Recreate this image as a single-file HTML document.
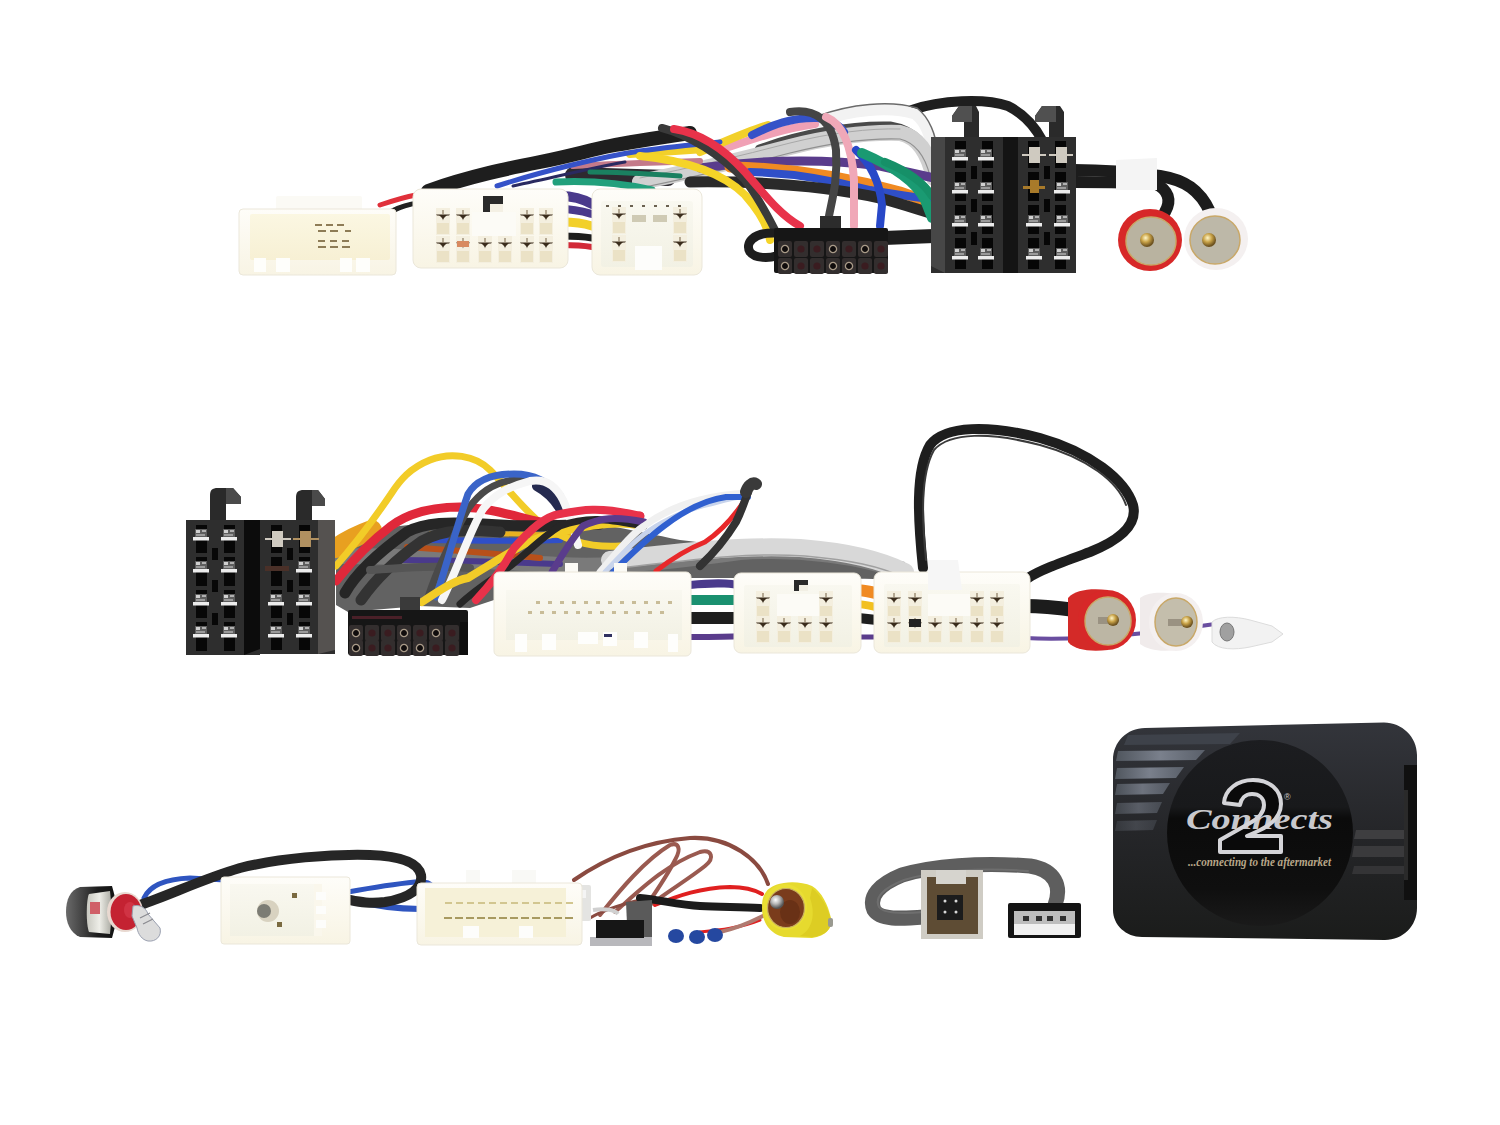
<!DOCTYPE html>
<html><head><meta charset="utf-8"><style>
html,body{margin:0;padding:0;background:#fff;width:1500px;height:1125px;overflow:hidden;font-family:"Liberation Sans",sans-serif;}
svg{display:block;position:absolute;left:0;top:0}
</style></head><body>
<svg width="1500" height="1125" viewBox="0 0 1500 1125">
<defs>
<linearGradient id="wc" x1="0" y1="0" x2="0" y2="1"><stop offset="0" stop-color="#fefdf9"/><stop offset="1" stop-color="#f8f4e4"/></linearGradient>
<linearGradient id="wcin" x1="0" y1="0" x2="0" y2="1"><stop offset="0" stop-color="#fbf7e2"/><stop offset="1" stop-color="#f7f0d4"/></linearGradient>
<clipPath id="boxclip"><path d="M1113,760 C1113,742 1127,728 1145,728 L1384,722.5 C1402,722.5 1417,737 1417,755 L1417,908 C1417,926 1403,940 1385,940 L1142,937 C1126,937 1113,925 1113,910 Z"/></clipPath>
<radialGradient id="gold" cx=".4" cy=".35" r=".6"><stop offset="0" stop-color="#fff6c8"/><stop offset=".5" stop-color="#c9a348"/><stop offset="1" stop-color="#6d5220"/></radialGradient>
<radialGradient id="silv" cx=".4" cy=".35" r=".6"><stop offset="0" stop-color="#ffffff"/><stop offset=".5" stop-color="#b8b8b8"/><stop offset="1" stop-color="#555"/></radialGradient>
<linearGradient id="box" x1="0" y1="0" x2="0" y2="1"><stop offset="0" stop-color="#33353b"/><stop offset=".5" stop-color="#252629"/><stop offset="1" stop-color="#1b1c1b"/></linearGradient>
<linearGradient id="circ" x1="0" y1="0" x2="0" y2="1"><stop offset="0" stop-color="#1c1d20"/><stop offset=".36" stop-color="#18191b"/><stop offset=".42" stop-color="#0b0b0b"/><stop offset=".8" stop-color="#0f0f0f"/><stop offset="1" stop-color="#1a1a1a"/></linearGradient>
<g id="pinA">
<rect x="-7" y="-12" width="14" height="27" fill="#f4efdf"/>
<rect x="-6" y="3" width="12" height="11" fill="#ebe2c6"/>
<path d="M-7,-5.5 L7,-5.5 L6,-4.5 L1.2,-4.2 L0,0.5 L-1.2,-4.2 L-6,-4.5 Z" fill="#3a2c1c"/>
<path d="M-4,-5 L4,-5 L0,-1 Z" fill="#3a2c1c"/>
<rect x="-0.6" y="-10" width="1.2" height="4.5" fill="#8a7a60"/>
</g>
<g id="hole14"><rect x="-7" y="-8" width="14" height="16" rx="2" fill="#332e2e"/><circle r="3.6" fill="#100c0c" stroke="#a89a88" stroke-width="1.3"/></g>
<g id="hole14b"><rect x="-7" y="-8" width="14" height="16" rx="2" fill="#332e2e"/><circle r="3.6" fill="#3a1c20"/></g>
<g id="isoCont">
<rect x="-6" y="-9" width="12" height="9" fill="#5e5e5e"/>
<rect x="-5" y="-8" width="4" height="3" fill="#d0d0d0"/><rect x="1" y="-8" width="4" height="2" fill="#b0b0b0"/><rect x="-5" y="-4" width="9" height="2" fill="#9a9a9a"/>
<rect x="-8" y="-1" width="16" height="3.5" fill="#ececec"/>
</g>
<g id="isoBody">
<rect x="0" y="0" width="72" height="136" fill="#2e2e2e"/>
<g fill="#060606">
<rect x="24" y="4" width="11" height="128"/><rect x="51" y="4" width="11" height="128"/>
<rect x="40" y="29" width="6" height="13"/><rect x="40" y="62" width="6" height="13"/><rect x="40" y="95" width="6" height="13"/>
</g>
<g fill="#2e2e2e"><rect x="24" y="31" width="11" height="4"/><rect x="51" y="31" width="11" height="4"/><rect x="24" y="64" width="11" height="4"/><rect x="51" y="64" width="11" height="4"/><rect x="24" y="97" width="11" height="4"/><rect x="51" y="97" width="11" height="4"/></g>
</g>>
<linearGradient id="wcin2" x1="0" y1="0" x2="0" y2="1"><stop offset="0" stop-color="#f9f8f0"/><stop offset="1" stop-color="#f2f1e4"/></linearGradient>
</defs>
<rect width="1500" height="1125" fill="#fff"/>
<g fill="none" stroke-linecap="round">
<!-- black cable loop over ISO -->
<path d="M912,110 C940,100 985,98 1008,106 C1024,114 1034,125 1042,140" stroke="#1f1f1f" stroke-width="10"/>
<!-- back layer right -->
<path d="M818,122 C850,110 890,106 915,114 C928,124 932,142 934,162" stroke="#f2f2f2" stroke-width="11"/>
<path d="M818,116 C850,104 890,100 917,108 C930,118 936,136 937,150" stroke="#6a6a6a" stroke-width="1.5"/>
<path d="M760,150 C800,135 850,126 890,127 C915,131 926,146 934,172" stroke="#4a4a4a" stroke-width="11"/>
<path d="M573,175 C610,176 640,177 668,178" stroke="#2e2a30" stroke-width="16"/>
<path d="M640,182 C690,172 740,160 790,147 C830,137 870,132 900,133 C918,137 928,152 934,178" stroke="#d0d0d0" stroke-width="16"/>
<path d="M640,188 C690,178 740,166 790,153 C830,143 870,138 900,139 C916,143 925,156 930,176" stroke="#909090" stroke-width="1.2"/>
<path d="M640,178 C690,168 740,156 790,143 C830,133 870,128 900,129" stroke="#a8a8a8" stroke-width="1"/>
<path d="M700,168 C760,160 820,158 880,166 L934,178" stroke="#5a3c8c" stroke-width="9"/>
<path d="M730,167 C790,168 850,178 900,192 L934,204" stroke="#f08a22" stroke-width="11"/>
<path d="M750,172 C800,173 840,182 870,190 C890,194 910,196 934,200" stroke="#2f4fc8" stroke-width="8"/>
<path d="M690,182 C760,181 820,185 880,198 C905,205 920,210 934,214" stroke="#2a2a2a" stroke-width="11"/>
<path d="M720,150 C750,140 780,129 815,124" stroke="#f0a0b5" stroke-width="8"/>
<path d="M700,152 C722,143 745,132 768,125" stroke="#f2d02a" stroke-width="8"/>
<path d="M752,135 C772,125 792,117 818,118 C832,120 840,126 844,132" stroke="#3552c8" stroke-width="8"/>
<!-- left part -->
<path d="M573,166 C610,164 640,163 700,161" stroke="#c47a8a" stroke-width="6"/>
<path d="M630,154 C660,152 690,150 720,148" stroke="#f2d02a" stroke-width="8"/>
<path d="M497,186 C540,172 600,157 640,151 C670,147 690,145 720,142" stroke="#3552c8" stroke-width="5"/>
<path d="M513,186 C560,176 600,166 625,162" stroke="#2a2a60" stroke-width="3"/>
<path d="M556,182 C600,180 630,185 652,190" stroke="#22a07c" stroke-width="7"/>
<path d="M590,172 C620,172 650,174 680,176" stroke="#1a8060" stroke-width="5"/>
<path d="M428,191 C470,176 510,168 540,162 C570,156 590,150 610,146 C630,142 650,139 690,133" stroke="#1e1e1e" stroke-width="14"/>
<!-- between W2/W3 -->
<path d="M560,196 C575,196 585,200 592,204" stroke="#4a3a8c" stroke-width="10"/>
<path d="M560,209 C575,209 585,212 592,214" stroke="#4a3a8c" stroke-width="8"/>
<path d="M562,222 C578,222 586,224 592,226" stroke="#f2d02a" stroke-width="9"/>
<path d="M562,236 C578,236 586,237 592,238" stroke="#1e1e1e" stroke-width="7"/>
<path d="M562,245 C578,245 586,246 592,247" stroke="#d22a38" stroke-width="6"/>
<path d="M380,205 C395,200 405,197 416,195" stroke="#e0303a" stroke-width="5"/>
<path d="M392,211 C402,206 410,204 418,203" stroke="#222" stroke-width="5"/>
<!-- front wires to 14 pin -->
<path d="M640,156 C680,160 720,170 745,195 C760,212 768,226 770,240" stroke="#f5d428" stroke-width="8"/>
<path d="M662,128 C690,135 720,155 745,180 C760,200 770,220 776,232" stroke="#3a3a3a" stroke-width="8"/>
<path d="M674,129 C700,133 725,150 745,172 C765,195 780,215 800,226" stroke="#e8324a" stroke-width="8"/>
<path d="M790,112 C815,108 832,120 836,150 C838,180 832,200 829,216" stroke="#454545" stroke-width="8"/>
<path d="M826,117 C845,125 852,150 854,180 L854,226" stroke="#f0a8b8" stroke-width="8"/>
<path d="M856,150 C872,165 880,185 882,205 L880,226" stroke="#2848c8" stroke-width="8"/>
<path d="M862,153 C890,165 915,180 925,200 L932,218" stroke="#1a9a72" stroke-width="10"/>
<path d="M885,162 C910,172 925,185 932,196" stroke="#169068" stroke-width="8"/>
<!-- black behind 14 pin -->
<path d="M776,233 C752,232 745,244 750,252 C755,259 770,258 776,256" stroke="#1e1e1e" stroke-width="9"/>
<path d="M884,238 L934,236" stroke="#1e1e1e" stroke-width="14"/>
<!-- cable to RCA -->
<path d="M1074,170 C1100,170 1130,172 1160,176 C1185,180 1200,190 1210,212" stroke="#1c1c1c" stroke-width="12"/>
<path d="M1074,182 C1100,182 1130,182 1156,184 C1168,190 1172,200 1165,212" stroke="#1c1c1c" stroke-width="12"/>
<path d="M1116,160 L1157,158 L1157,190 L1116,190 Z" fill="#f4f4f4" stroke="none"/>
</g>
<!-- W1 -->
<rect x="276" y="196" width="86" height="16" rx="2" fill="#fbfaf5"/>
<rect x="239" y="209" width="157" height="66" rx="4" fill="url(#wc)" stroke="#ebe7da" stroke-width="1"/>
<rect x="250" y="214" width="140" height="46" rx="2" fill="url(#wcin)"/>
<g fill="#8e7c56">
<rect x="315" y="224" width="7" height="2"/><rect x="326" y="224" width="7" height="2"/><rect x="337" y="224" width="7" height="2"/>
<rect x="318" y="230" width="8" height="2"/><rect x="330" y="230" width="8" height="2"/><rect x="345" y="230" width="6" height="2"/>
<rect x="318" y="240" width="7" height="2"/><rect x="330" y="240" width="7" height="2"/><rect x="342" y="240" width="7" height="2"/>
<rect x="318" y="246" width="8" height="2"/><rect x="330" y="246" width="8" height="2"/><rect x="342" y="246" width="8" height="2"/>
</g>
<g fill="#fefefb"><rect x="254" y="258" width="12" height="14"/><rect x="276" y="258" width="14" height="14"/><rect x="340" y="258" width="12" height="14"/><rect x="356" y="258" width="14" height="14"/></g>
<!-- W2 -->
<rect x="413" y="189" width="155" height="79" rx="8" fill="url(#wc)" stroke="#ebe7da" stroke-width="1"/>
<rect x="483" y="196" width="20" height="17" fill="#2a2a2a"/><rect x="490" y="204" width="13" height="9" fill="#f4f0e4"/>
<rect x="472" y="212" width="44" height="24" fill="#fcfbf6"/>
<use href="#pinA" x="443" y="220"/><use href="#pinA" x="463" y="220"/><use href="#pinA" x="527" y="220"/><use href="#pinA" x="546" y="220"/>
<use href="#pinA" x="443" y="248"/><use href="#pinA" x="463" y="248"/><use href="#pinA" x="485" y="248"/><use href="#pinA" x="505" y="248"/><use href="#pinA" x="527" y="248"/><use href="#pinA" x="546" y="248"/>
<rect x="457" y="241" width="12" height="6" fill="#d88a60"/>
<!-- W3 -->
<rect x="592" y="189" width="110" height="86" rx="8" fill="url(#wc)" stroke="#ebe7da" stroke-width="1"/>
<rect x="601" y="201" width="92" height="66" rx="3" fill="url(#wcin2)"/>
<g fill="#6a6050"><rect x="606" y="205" width="3" height="2"/><rect x="618" y="205" width="3" height="2"/><rect x="630" y="205" width="3" height="2"/><rect x="642" y="205" width="3" height="2"/><rect x="654" y="205" width="3" height="2"/><rect x="666" y="205" width="3" height="2"/><rect x="678" y="205" width="3" height="2"/></g>
<use href="#pinA" x="619" y="219"/><use href="#pinA" x="680" y="219"/>
<use href="#pinA" x="619" y="247"/><use href="#pinA" x="680" y="247"/>
<g fill="#cfcab4"><rect x="632" y="215" width="14" height="7"/><rect x="653" y="215" width="14" height="7"/></g>
<path d="M635,246 L662,246 L662,270 L635,270 Z" fill="#fdfdfb"/>
<!-- 14 pin black -->
<rect x="820" y="216" width="21" height="15" fill="#2c2c2c"/>
<rect x="774" y="228" width="114" height="45" rx="2" fill="#161616"/>
<use href="#hole14" x="785" y="249"/><use href="#hole14b" x="801" y="249"/><use href="#hole14b" x="817" y="249"/><use href="#hole14" x="833" y="249"/><use href="#hole14b" x="849" y="249"/><use href="#hole14" x="865" y="249"/><use href="#hole14b" x="881" y="249"/>
<use href="#hole14" x="785" y="266"/><use href="#hole14b" x="801" y="266"/><use href="#hole14b" x="817" y="266"/><use href="#hole14" x="833" y="266"/><use href="#hole14" x="849" y="266"/><use href="#hole14b" x="865" y="266"/><use href="#hole14b" x="881" y="266"/>
<!-- ISO 1 -->
<path d="M964,138 L964,122 L952,122 L952,116 L959,106 L976,106 L979,112 L979,138 Z" fill="#2a2a2a"/>
<path d="M952,122 L952,116 L959,106 L972,106 L972,122 Z" fill="#505050"/>
<use href="#isoBody" x="931" y="137"/>
<path d="M931,137 L945,137 L945,273 L931,266 Z" fill="#474747"/>
<use href="#isoCont" x="960" y="158"/><use href="#isoCont" x="986" y="158"/>
<use href="#isoCont" x="960" y="191"/><use href="#isoCont" x="986" y="191"/>
<use href="#isoCont" x="960" y="224"/><use href="#isoCont" x="986" y="224"/>
<use href="#isoCont" x="960" y="257"/><use href="#isoCont" x="986" y="257"/>
<!-- ISO 2 -->
<path d="M1049,138 L1049,122 L1035,122 L1035,116 L1042,106 L1060,106 L1064,112 L1064,138 Z" fill="#2a2a2a"/>
<path d="M1035,122 L1035,116 L1042,106 L1056,106 L1056,122 Z" fill="#505050"/>
<use href="#isoBody" x="1004" y="137"/>
<rect x="1003" y="137" width="15" height="136" fill="#141414"/>
<use href="#isoCont" x="1062" y="191"/>
<use href="#isoCont" x="1034" y="224"/><use href="#isoCont" x="1062" y="224"/>
<use href="#isoCont" x="1034" y="257"/><use href="#isoCont" x="1062" y="257"/>
<g fill="#cfcac0"><rect x="1029" y="147" width="11" height="16"/><rect x="1056" y="147" width="11" height="16"/><rect x="1022" y="154" width="24" height="2"/><rect x="1049" y="154" width="24" height="2"/></g>
<g fill="#a87a2a"><rect x="1030" y="180" width="9" height="13"/><rect x="1023" y="186" width="22" height="3"/></g>
<!-- RCA row1 -->
<ellipse cx="1150" cy="240" rx="32" ry="31" fill="#d72828"/>
<ellipse cx="1151" cy="241" rx="25" ry="24" fill="#b9b3a0" stroke="#c9a868" stroke-width="1.5"/>
<circle cx="1147" cy="240" r="7" fill="url(#gold)"/>
<ellipse cx="1216" cy="239" rx="32" ry="31" fill="#f4f0f0"/>
<ellipse cx="1215" cy="240" rx="25" ry="24" fill="#bdb8a8" stroke="#c9a868" stroke-width="1.5"/>
<circle cx="1209" cy="240" r="7" fill="url(#gold)"/>
<g fill="none" stroke-linecap="round">
<!-- black loop cable -->
<path d="M923,568 C918,520 915,470 930,445 C945,425 990,425 1040,438 C1090,452 1125,480 1133,505 C1138,525 1120,540 1090,552 C1060,563 1040,570 1028,578" stroke="#1e1e1e" stroke-width="10"/>
<path d="M926,560 C922,520 920,475 934,450 C950,432 990,432 1040,445 C1088,458 1118,482 1126,505" stroke="#3a3a3a" stroke-width="2"/>
<!-- back bundle -->
<path d="M336,540 C360,532 390,526 420,524 C460,522 520,524 560,522 C600,522 630,530 680,540 C740,548 850,552 905,562 L905,580 C850,578 760,578 700,578 L494,578 L494,600 L470,608 L420,606 L348,612 L336,605 Z" fill="#626262" stroke="none"/>
<path d="M336,556 C400,556 470,560 560,565 C620,568 680,560 740,552 C800,548 860,556 905,572" stroke="#7a7a7a" stroke-width="16"/>
<path d="M610,560 C680,552 740,545 800,548 C850,552 880,560 905,572" stroke="#d8d8d8" stroke-width="18"/>
<path d="M620,568 C690,560 745,552 805,556 C850,560 880,566 905,578" stroke="#a0a0a0" stroke-width="1.5"/>
<path d="M690,585 C720,582 735,584 740,586" stroke="#4a3a8c" stroke-width="8"/>
<path d="M690,600 C720,600 735,600 740,600" stroke="#1a9070" stroke-width="10"/>
<path d="M690,618 C720,618 735,618 740,618" stroke="#1e1e1e" stroke-width="12"/>
<path d="M690,637 C715,637 730,637 740,636" stroke="#5a3c8c" stroke-width="6"/>
<path d="M855,590 C865,590 870,592 880,594" stroke="#f08a22" stroke-width="12"/>
<path d="M855,604 C865,604 870,606 880,608" stroke="#f2c020" stroke-width="8"/>
<path d="M855,618 C865,618 870,620 880,620" stroke="#1e1e1e" stroke-width="10"/>
<path d="M855,637 C865,637 870,637 880,637" stroke="#5a3c8c" stroke-width="5"/>
<path d="M1025,606 C1045,606 1060,608 1075,610" stroke="#1c1c1c" stroke-width="14"/>
<path d="M1025,638 C1060,640 1120,638 1215,624" stroke="#6a4ea0" stroke-width="4"/>
<path d="M399,560 C450,560 500,562 560,564" stroke="#4a3a8c" stroke-width="6"/>
<path d="M407,547 C450,550 490,553 540,558" stroke="#b8501a" stroke-width="6"/>
<path d="M420,540 C470,540 520,542 560,540" stroke="#2f4fc8" stroke-width="6"/>
<path d="M430,534 C480,532 520,534 570,536" stroke="#e8b020" stroke-width="5"/>
<!-- main arcs -->
<path d="M336,548 C345,542 358,535 372,530" stroke="#e8a020" stroke-width="20"/>
<path d="M336,566 C350,550 370,525 391,494 C400,480 410,468 430,460 C450,452 475,455 490,470 C505,485 515,500 537,520 C560,540 590,548 620,546" stroke="#f2cc28" stroke-width="7"/>
<path d="M336,581 C345,570 360,550 391,526 C410,512 435,507 460,507 C490,508 510,515 540,522 C580,530 610,520 640,516" stroke="#e0283a" stroke-width="9"/>
<path d="M345,593 C355,575 375,555 407,532 C425,522 450,522 483,524 C520,527 560,526 600,524" stroke="#262626" stroke-width="11"/>
<path d="M361,600 C375,580 395,560 422,541 C445,528 470,530 500,532" stroke="#333" stroke-width="11"/>
<path d="M370,570 C400,568 430,565 470,568" stroke="#555" stroke-width="8"/>
<path d="M428,597 C437,570 447,547 468,509 C480,492 495,482 514,480 C528,479 540,482 550,488" stroke="#4a4a4a" stroke-width="7"/>
<path d="M436,597 C445,570 455,532 468,494 C475,482 490,474 514,474 C535,474 548,482 560,495" stroke="#3a64c8" stroke-width="7"/>
<path d="M537,486 C548,492 556,500 562,512" stroke="#252a50" stroke-width="10"/>
<path d="M442,600 C455,575 470,530 483,509 C495,494 508,487 530,481 C546,478 556,486 563,500 C570,515 574,530 578,545" stroke="#f6f6f6" stroke-width="8"/>

<path d="M422,602 C440,590 455,580 468,578 C490,565 505,555 514,550 C530,540 545,535 560,532 C590,525 620,520 640,526" stroke="#f2cc28" stroke-width="8"/>
<path d="M460,604 C480,585 500,575 514,563 C530,550 545,535 560,526 C590,515 610,520 644,526" stroke="#262626" stroke-width="7"/>
<path d="M476,600 C490,585 505,565 514,548 C530,530 545,516 560,514 C580,510 600,506 640,516" stroke="#e8324a" stroke-width="8"/>
<path d="M552,572 C565,550 575,535 583,526 C600,518 615,516 644,522" stroke="#5a3c8c" stroke-width="7"/>
<!-- right fan -->
<path d="M600,572 C615,555 630,535 644,526 C660,514 680,505 700,500 C715,496 730,494 748,493" stroke="#f0f0f0" stroke-width="7"/>
<path d="M605,572 C620,556 635,540 650,530 C665,520 690,508 710,504 C725,500 735,497 748,496" stroke="#c8d4ec" stroke-width="5"/>
<path d="M613,572 C630,555 648,538 664,526 C685,510 705,500 726,497 L748,497" stroke="#3060d0" stroke-width="6"/>
<path d="M656,571 C670,560 690,548 705,542 C720,532 735,515 745,500" stroke="#e8282a" stroke-width="5"/>
<path d="M700,566 C715,552 728,535 736,522 C742,510 745,500 748,492" stroke="#333" stroke-width="8"/>
<path d="M746,492 C748,486 752,482 756,484" stroke="#3a3a3a" stroke-width="12"/>
</g>
<!-- ISO L -->
<path d="M210,520 L210,496 C210,490 212,488 218,488 L233,488 L241,497 L241,504 L226,504 L226,520 Z" fill="#2a2a2a"/>
<path d="M226,504 L241,504 L241,497 L233,488 L226,488 Z" fill="#4a4a4a"/>
<rect x="186" y="520" width="74" height="135" fill="#2e2e2e"/>
<path d="M244,520 L260,520 L260,649 L244,655 Z" fill="#0c0c0c"/>
<g fill="#070707">
<rect x="196" y="525" width="11" height="126"/><rect x="224" y="525" width="11" height="126"/>
<rect x="212" y="548" width="6" height="12"/><rect x="212" y="580" width="6" height="12"/><rect x="212" y="613" width="6" height="12"/>
</g>
<g fill="#2e2e2e"><rect x="196" y="553" width="11" height="4"/><rect x="224" y="553" width="11" height="4"/><rect x="196" y="586" width="11" height="4"/><rect x="224" y="586" width="11" height="4"/><rect x="196" y="618" width="11" height="4"/><rect x="224" y="618" width="11" height="4"/></g>
<use href="#isoCont" x="201" y="538"/><use href="#isoCont" x="229" y="538"/>
<use href="#isoCont" x="201" y="570"/><use href="#isoCont" x="229" y="570"/>
<use href="#isoCont" x="201" y="603"/><use href="#isoCont" x="229" y="603"/>
<use href="#isoCont" x="201" y="635"/><use href="#isoCont" x="229" y="635"/>
<!-- ISO R -->
<path d="M296,520 L296,498 C296,492 298,490 304,490 L318,490 L325,499 L325,506 L312,506 L312,520 Z" fill="#2a2a2a"/>
<path d="M312,506 L325,506 L325,499 L318,490 L312,490 Z" fill="#4a4a4a"/>
<rect x="260" y="520" width="75" height="134" fill="#2e2e2e"/>
<path d="M318,520 L335,520 L335,650 L318,654 Z" fill="#555250"/>
<g fill="#070707">
<rect x="271" y="525" width="11" height="125"/><rect x="299" y="525" width="11" height="125"/>
<rect x="287" y="548" width="6" height="12"/><rect x="287" y="580" width="6" height="12"/><rect x="287" y="613" width="6" height="12"/>
</g>
<g fill="#2e2e2e"><rect x="271" y="553" width="11" height="4"/><rect x="299" y="553" width="11" height="4"/><rect x="271" y="586" width="11" height="4"/><rect x="299" y="586" width="11" height="4"/><rect x="271" y="618" width="11" height="4"/><rect x="299" y="618" width="11" height="4"/></g>
<g fill="#cfcac0"><rect x="272" y="531" width="11" height="16"/><rect x="265" y="538" width="26" height="2"/></g>
<g fill="#b09060"><rect x="300" y="531" width="11" height="16"/><rect x="293" y="538" width="26" height="2"/></g>
<rect x="265" y="566" width="24" height="5" fill="#4a3028"/>
<use href="#isoCont" x="304" y="570"/>
<use href="#isoCont" x="276" y="603"/><use href="#isoCont" x="304" y="603"/>
<use href="#isoCont" x="276" y="635"/><use href="#isoCont" x="304" y="635"/>
<!-- 14 pin -->
<rect x="400" y="597" width="20" height="16" fill="#3a3a3a"/>
<rect x="348" y="610" width="120" height="45" rx="2" fill="#161616"/>
<rect x="460" y="622" width="8" height="33" fill="#0e0e0e"/>
<rect x="352" y="616" width="50" height="3" fill="#4a2028"/>
<use href="#hole14" x="356" y="633"/><use href="#hole14b" x="372" y="633"/><use href="#hole14b" x="388" y="633"/><use href="#hole14" x="404" y="633"/><use href="#hole14b" x="420" y="633"/><use href="#hole14" x="436" y="633"/><use href="#hole14b" x="452" y="633"/>
<use href="#hole14" x="356" y="648"/><use href="#hole14b" x="372" y="648"/><use href="#hole14b" x="388" y="648"/><use href="#hole14" x="404" y="648"/><use href="#hole14" x="420" y="648"/><use href="#hole14b" x="436" y="648"/><use href="#hole14b" x="452" y="648"/>
<!-- big white -->
<rect x="565" y="563" width="13" height="12" fill="#fbfaf5"/><rect x="614" y="563" width="13" height="12" fill="#fbfaf5"/>
<rect x="494" y="572" width="197" height="84" rx="5" fill="url(#wc)" stroke="#ebe7da" stroke-width="1"/>
<rect x="506" y="590" width="176" height="50" fill="url(#wcin2)"/>
<g fill="#c8bc98">
<rect x="536" y="601" width="4" height="3"/><rect x="548" y="601" width="4" height="3"/><rect x="560" y="601" width="4" height="3"/><rect x="572" y="601" width="4" height="3"/><rect x="584" y="601" width="4" height="3"/><rect x="596" y="601" width="4" height="3"/><rect x="608" y="601" width="4" height="3"/><rect x="620" y="601" width="4" height="3"/><rect x="632" y="601" width="4" height="3"/><rect x="644" y="601" width="4" height="3"/><rect x="656" y="601" width="4" height="3"/><rect x="668" y="601" width="4" height="3"/>
<rect x="528" y="611" width="4" height="3"/><rect x="540" y="611" width="4" height="3"/><rect x="552" y="611" width="4" height="3"/><rect x="564" y="611" width="4" height="3"/><rect x="576" y="611" width="4" height="3"/><rect x="588" y="611" width="4" height="3"/><rect x="600" y="611" width="4" height="3"/><rect x="612" y="611" width="4" height="3"/><rect x="624" y="611" width="4" height="3"/><rect x="636" y="611" width="4" height="3"/><rect x="648" y="611" width="4" height="3"/><rect x="660" y="611" width="4" height="3"/>
</g>
<g fill="#fefefc"><rect x="515" y="634" width="12" height="18"/><rect x="542" y="634" width="14" height="16"/><rect x="578" y="632" width="20" height="12"/><rect x="603" y="632" width="14" height="14"/><rect x="634" y="632" width="14" height="16"/><rect x="668" y="634" width="10" height="18"/></g>
<rect x="604" y="634" width="8" height="3" fill="#303060"/>
<!-- white A -->
<rect x="734" y="573" width="127" height="80" rx="7" fill="url(#wc)" stroke="#ebe7da" stroke-width="1"/>
<rect x="744" y="585" width="108" height="62" rx="2" fill="url(#wcin2)"/>
<rect x="794" y="580" width="14" height="11" fill="#2a2a2a"/><rect x="799" y="585" width="9" height="6" fill="#f2efe4"/>
<rect x="777" y="594" width="42" height="22" fill="#fcfbf6"/>
<use href="#pinA" x="763" y="603"/><use href="#pinA" x="826" y="603"/>
<use href="#pinA" x="763" y="628"/><use href="#pinA" x="784" y="628"/><use href="#pinA" x="805" y="628"/><use href="#pinA" x="826" y="628"/>
<!-- white B -->
<rect x="874" y="572" width="156" height="81" rx="7" fill="url(#wc)" stroke="#ebe7da" stroke-width="1"/>
<rect x="884" y="584" width="136" height="63" rx="2" fill="url(#wcin2)"/>
<path d="M928,560 L958,560 L962,590 L928,590 Z" fill="#f6f6f6"/>
<rect x="928" y="594" width="44" height="22" fill="#fcfbf6"/>
<use href="#pinA" x="894" y="603"/><use href="#pinA" x="915" y="603"/><use href="#pinA" x="977" y="603"/><use href="#pinA" x="997" y="603"/>
<use href="#pinA" x="894" y="628"/><use href="#pinA" x="915" y="628"/><use href="#pinA" x="935" y="628"/><use href="#pinA" x="956" y="628"/><use href="#pinA" x="977" y="628"/><use href="#pinA" x="997" y="628"/>
<rect x="909" y="619" width="12" height="8" fill="#222"/>
<!-- RCA red row2 -->
<path d="M1068,598 C1075,590 1090,588 1108,590 L1108,650 C1090,652 1075,650 1068,642 Z" fill="#d42a28"/>
<ellipse cx="1107" cy="620" rx="29" ry="30" fill="#d72828"/>
<ellipse cx="1108" cy="621" rx="23" ry="24" fill="#bcb6a4" stroke="#c9a868" stroke-width="1.5"/>
<rect x="1098" y="617" width="14" height="7" fill="#9a9282"/>
<circle cx="1113" cy="620" r="6" fill="url(#gold)"/>
<!-- RCA white row2 -->
<path d="M1140,598 C1148,592 1160,592 1176,594 L1176,650 C1160,652 1148,650 1140,644 Z" fill="#f0ebeb"/>
<ellipse cx="1176" cy="622" rx="27" ry="29" fill="#f4f0f0"/>
<ellipse cx="1176" cy="622" rx="21" ry="24" fill="#c4beac" stroke="#c9a868" stroke-width="1.5"/>
<rect x="1168" y="619" width="14" height="7" fill="#9a9282"/>
<circle cx="1187" cy="622" r="6" fill="url(#gold)"/>
<!-- antenna tip -->
<path d="M1212,622 C1218,616 1235,616 1250,620 L1272,626 L1283,634 L1272,642 L1250,647 C1235,650 1218,650 1212,642 Z" fill="#f2f2f2" stroke="#dcdcdc" stroke-width="1"/>
<ellipse cx="1227" cy="632" rx="7" ry="9" fill="#a0a0a0" stroke="#777" stroke-width="1"/>
<g fill="none" stroke-linecap="round">
<!-- blue wire antenna -->
<path d="M144,898 C150,885 165,879 190,878 L225,880" stroke="#2f55c0" stroke-width="5"/>
<path d="M348,892 C370,888 395,884 415,882 C425,881 430,883 432,886" stroke="#2f55c0" stroke-width="5"/>
<path d="M352,900 C375,906 400,909 420,909" stroke="#2f55c0" stroke-width="6"/>
<!-- black cable -->
<path d="M140,905 C170,895 200,880 240,868 C280,858 330,854 370,855 C400,856 418,862 421,875 C423,888 410,898 385,902 C370,904 360,902 350,900" stroke="#262626" stroke-width="10"/>
<!-- brown wires -->
<path d="M574,880 C600,862 640,842 690,838 C730,836 760,860 768,884" stroke="#8a4a40" stroke-width="4"/>
<path d="M600,915 C620,890 645,860 670,845 C678,842 682,848 675,860 C665,880 650,900 640,915" stroke="#9a5a50" stroke-width="4"/>
<path d="M615,912 C640,890 665,865 700,852 C712,849 715,858 705,866 C690,878 670,890 650,905" stroke="#9a5a50" stroke-width="4"/>
<path d="M590,918 C600,912 615,906 640,900" stroke="#8a4a40" stroke-width="3"/>
<path d="M655,905 C680,895 700,888 730,887 C745,887 755,890 762,894" stroke="#e02020" stroke-width="4"/>
<path d="M640,898 C660,900 680,905 700,906 C720,907 740,907 760,908" stroke="#1c1c1c" stroke-width="8"/>
<path d="M700,932 C720,930 740,928 760,920" stroke="#e02020" stroke-width="3"/>
<path d="M720,932 C740,928 755,920 765,915" stroke="#b07a70" stroke-width="4"/>
<!-- grey usb cable -->
<path d="M924,917 C900,919 880,920 874,910 C868,896 880,884 902,875 C932,866 980,862 1030,866 C1055,870 1062,886 1055,905" stroke="#5e5e5e" stroke-width="15"/>
<path d="M924,912 C902,914 884,914 879,907 C874,897 884,888 904,880 C932,871 980,867 1028,871" stroke="#7a7a7a" stroke-width="2" opacity=".6"/>
</g>
<!-- antenna plug -->
<linearGradient id="antcyl" x1="0" y1="0" x2="1" y2="0"><stop offset="0" stop-color="#6a6a6a"/><stop offset=".25" stop-color="#4a4a4a"/><stop offset=".6" stop-color="#1c1c1c"/><stop offset="1" stop-color="#111"/></linearGradient>
<path d="M80,887 L112,886 L119,912 L112,938 L80,937 C70,933 66,922 66,912 C66,900 70,890 80,887 Z" fill="url(#antcyl)"/>
<linearGradient id="chrome" x1="0" y1="0" x2="1" y2="0"><stop offset="0" stop-color="#c8c8c0"/><stop offset=".5" stop-color="#eeeee8"/><stop offset="1" stop-color="#a8a8a0"/></linearGradient>
<path d="M89,894 L110,891 L112,912 L110,934 L89,932 C86,925 86,900 89,894 Z" fill="url(#chrome)"/>
<rect x="90" y="902" width="10" height="12" fill="#d06068"/>
<ellipse cx="125" cy="912" rx="18" ry="20" fill="#e8d8d0"/>
<ellipse cx="126" cy="912" rx="15.5" ry="18" fill="#c42232"/>
<ellipse cx="130" cy="910" rx="6" ry="8" fill="#d84050" opacity=".6"/>
<path d="M133,906 C140,904 146,908 148,914 L160,928 C162,936 156,942 148,941 C142,940 138,934 137,928 L132,916 Z" fill="#dcdcdc" stroke="#9aa0b0" stroke-width="1"/>
<path d="M140,918 L150,913 M143,924 L153,919" stroke="#8a8a90" stroke-width="1.2"/>
<!-- small white connector -->
<rect x="221" y="877" width="129" height="67" rx="3" fill="url(#wc)" stroke="#ebe7da" stroke-width="1"/>
<rect x="230" y="884" width="84" height="52" fill="url(#wcin2)"/>
<rect x="314" y="884" width="8" height="52" fill="#faf7ec"/>
<g fill="#fdfdfb"><rect x="316" y="892" width="10" height="8"/><rect x="316" y="906" width="10" height="8"/><rect x="316" y="920" width="10" height="8"/></g>
<circle cx="268" cy="911" r="11" fill="#d8d2c0"/>
<circle cx="264" cy="911" r="7" fill="#7c7c74"/>
<rect x="292" y="893" width="5" height="5" fill="#7a6a40"/><rect x="277" y="922" width="5" height="5" fill="#7a6a40"/>
<!-- big white row3 -->
<rect x="466" y="870" width="14" height="16" fill="#f9f9f6"/><rect x="512" y="870" width="24" height="16" fill="#f9f9f6"/>
<rect x="566" y="885" width="25" height="36" rx="2" fill="#e4e4e2"/><rect x="572" y="890" width="14" height="8" fill="#f4f4f4"/>
<rect x="417" y="883" width="165" height="62" rx="4" fill="url(#wc)" stroke="#ebe7da" stroke-width="1"/>
<rect x="425" y="888" width="141" height="49" fill="#f6f1d8"/>
<g fill="#d2c690">
<rect x="445" y="902" width="7" height="2"/><rect x="456" y="902" width="7" height="2"/><rect x="467" y="902" width="7" height="2"/><rect x="478" y="902" width="7" height="2"/><rect x="489" y="902" width="7" height="2"/><rect x="500" y="902" width="7" height="2"/><rect x="511" y="902" width="7" height="2"/><rect x="522" y="902" width="7" height="2"/><rect x="533" y="902" width="7" height="2"/><rect x="544" y="902" width="7" height="2"/><rect x="555" y="902" width="7" height="2"/><rect x="566" y="902" width="7" height="2"/>
</g>
<g fill="#a89a60">
<rect x="444" y="917" width="8" height="2"/><rect x="455" y="917" width="8" height="2"/><rect x="466" y="917" width="8" height="2"/><rect x="477" y="917" width="8" height="2"/><rect x="488" y="917" width="8" height="2"/><rect x="499" y="917" width="8" height="2"/><rect x="510" y="917" width="8" height="2"/><rect x="521" y="917" width="8" height="2"/><rect x="532" y="917" width="8" height="2"/><rect x="543" y="917" width="8" height="2"/><rect x="554" y="917" width="8" height="2"/><rect x="565" y="917" width="8" height="2"/>
</g>
<g fill="#fdfdfb"><rect x="463" y="926" width="16" height="12"/><rect x="519" y="926" width="14" height="12"/></g>
<!-- fuse/relay -->
<path d="M626,902 L652,900 L652,946 L628,946 Z" fill="#5a5a5a"/>
<rect x="590" y="937" width="62" height="9" fill="#b8b8bc"/>
<rect x="596" y="920" width="48" height="18" fill="#161616"/>
<path d="M593,910 C605,908 615,910 618,914" stroke="#d0d0d0" stroke-width="4" fill="none"/>
<!-- blue caps -->
<ellipse cx="676" cy="936" rx="8" ry="7" fill="#2548a0"/><ellipse cx="697" cy="937" rx="8" ry="7" fill="#2548a0"/><ellipse cx="715" cy="935" rx="8" ry="7" fill="#2548a0"/>
<!-- yellow RCA -->
<path d="M766,892 C772,882 796,879 812,886 C822,892 828,905 831,918 C833,928 826,936 812,938 L784,937 C770,934 762,922 762,908 C762,900 763,896 766,892 Z" fill="#e6da2e"/>
<path d="M812,888 C822,896 828,908 831,920 C832,930 824,936 812,937 L800,936 C812,930 816,915 810,898 Z" fill="#d8c820" opacity=".7"/>
<rect x="828" y="918" width="5" height="9" rx="2" fill="#9a9a90"/>
<ellipse cx="785" cy="907" rx="22" ry="23" fill="#eadf34"/>
<ellipse cx="786" cy="908" rx="18.5" ry="19.5" fill="#7a3c1c" stroke="#c8b060" stroke-width="1.2"/>
<ellipse cx="790" cy="912" rx="10" ry="12" fill="#5e2a12" opacity=".6"/>
<circle cx="777" cy="902" r="7" fill="url(#silv)"/>
<!-- grey connector -->
<rect x="921" y="870" width="62" height="69" fill="#cfccc4"/>
<rect x="927" y="877" width="51" height="57" fill="#5e4c34"/>
<rect x="936" y="870" width="30" height="14" fill="#d6d4ce"/>
<rect x="937" y="895" width="26" height="25" fill="#1c1c1c"/>
<g fill="#d8d8d8"><circle cx="945" cy="901" r="1.5"/><circle cx="956" cy="901" r="1.5"/><circle cx="945" cy="912" r="1.5"/><circle cx="956" cy="912" r="1.5"/></g>
<!-- USB -->
<rect x="1008" y="903" width="73" height="35" rx="2" fill="#141414"/>
<rect x="1014" y="911" width="61" height="24" fill="#bdbdbd"/>
<rect x="1014" y="924" width="61" height="11" fill="#f0f0f0"/>
<g fill="#303030"><rect x="1023" y="916" width="6" height="5"/><rect x="1036" y="916" width="6" height="5"/><rect x="1047" y="916" width="6" height="5"/><rect x="1060" y="916" width="6" height="5"/></g>
<path d="M1113,760 C1113,742 1127,728 1145,728 L1384,722.5 C1402,722.5 1417,737 1417,755 L1417,908 C1417,926 1403,940 1385,940 L1142,937 C1126,937 1113,925 1113,910 Z" fill="url(#box)"/>
<g clip-path="url(#boxclip)">
<linearGradient id="strp" x1="0" y1="0" x2="1" y2="0"><stop offset="0" stop-color="#50565e"/><stop offset=".5" stop-color="#7a808c"/><stop offset="1" stop-color="#5a606a"/></linearGradient>
<path d="M1128,735 L1240,733 L1230,744 L1124,745 Z" fill="#3e424a"/>
<path d="M1118,751 L1205,750 L1196,760 L1116,761 Z" fill="url(#strp)"/>
<path d="M1117,768 L1184,767 L1176,778 L1115,779 Z" fill="url(#strp)"/>
<path d="M1117,784 L1170,783 L1163,794 L1115,795 Z" fill="url(#strp)" opacity=".85"/>
<path d="M1117,803 L1162,802 L1157,813 L1115,814 Z" fill="url(#strp)" opacity=".6"/>
<path d="M1117,821 L1157,820 L1153,830 L1115,831 Z" fill="url(#strp)" opacity=".35"/>
<path d="M1356,830 L1406,830 L1406,839 L1354,839 Z" fill="#3e3e40"/>
<path d="M1354,846 L1406,846 L1406,857 L1352,857 Z" fill="#3a3a3c"/>
<path d="M1354,866 L1406,866 L1406,874 L1352,874 Z" fill="#343436"/>
<circle cx="1260" cy="833" r="93" fill="url(#circ)"/>
<rect x="1404" y="765" width="13" height="135" fill="#101010"/>
<rect x="1404" y="790" width="4" height="90" fill="#2a2a2a"/>
</g>
<path d="M1224,803 C1225,789 1238,780 1253,780 C1270,780 1281,790 1281,804 C1281,818 1270,826 1256,832 L1247,836 L1281,836 L1281,852 L1220,852 L1220,840 L1250,823 C1259,818 1264,812 1264,805 C1264,798 1259,794 1252,794 C1245,794 1241,799 1240,805 Z" fill="#0a0a0a"/>
<text x="1186" y="829" textLength="147" lengthAdjust="spacingAndGlyphs" font-family="Liberation Serif" font-style="italic" font-weight="bold" font-size="30" fill="#c8c8cc">Connects</text>
<path d="M1224,803 C1225,789 1238,780 1253,780 C1270,780 1281,790 1281,804 C1281,818 1270,826 1256,832 L1247,836 L1281,836 L1281,852 L1220,852 L1220,840 L1250,823 C1259,818 1264,812 1264,805 C1264,798 1259,794 1252,794 C1245,794 1241,799 1240,805 Z" fill="none" stroke="#d4d4d8" stroke-width="4" stroke-linejoin="round"/>
<text x="1284" y="800" font-family="Liberation Sans" font-size="9" fill="#c8c8c8">®</text>
<text x="1188" y="866" textLength="143" lengthAdjust="spacingAndGlyphs" font-family="Liberation Serif" font-style="italic" font-weight="bold" font-size="12.5" fill="#b8a688">...connecting to the aftermarket</text>

</svg>
</body></html>
